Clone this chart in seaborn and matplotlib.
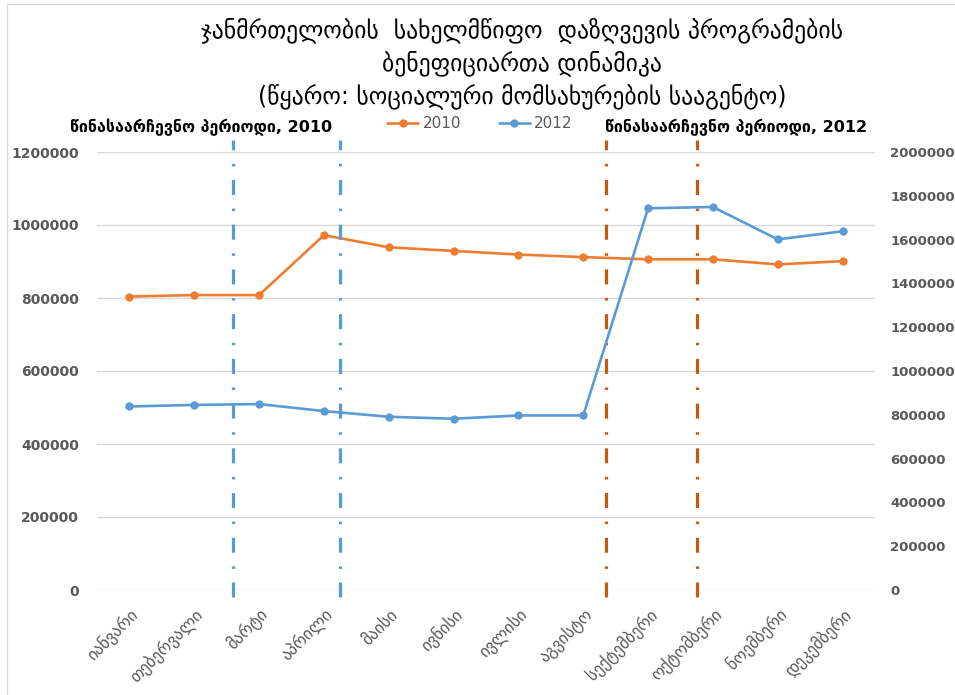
import matplotlib
matplotlib.use("Agg")
import matplotlib.pyplot as plt
from matplotlib.lines import Line2D
from matplotlib.patches import Rectangle
import seaborn as sns
import pandas as pd
import numpy as np

# data
months = ["იანვარი", "თებერვალი", "მარტი", "აპრილი", "მაისი", "ივნისი",
          "ივლისი", "აგვისტო", "სექტემბერი", "ოქტომბერი", "ნოემბერი", "დეკემბერი"]
values_2010 = [804000, 808000, 808000, 972000, 939000, 929000,
               919000, 912000, 906000, 906000, 892000, 901000]
values_2012 = [838000, 845000, 849000, 817000, 791000, 782000,
               797000, 797000, 1743000, 1749000, 1601000, 1638000]
left_ticks = [0, 200000, 400000, 600000, 800000, 1000000, 1200000]
right_ticks = [0, 200000, 400000, 600000, 800000, 1000000, 1200000,
               1400000, 1600000, 1800000, 2000000]
# pre-election period markers (in month-index units)
period_2010 = [1.6, 3.25]
period_2012 = [7.35, 8.75]

title = ("ჯანმრთელობის  სახელმწიფო  დაზღვევის პროგრამების\n"
         "ბენეფიციართა დინამიკა\n"
         "(წყარო: სოციალური მომსახურების სააგენტო)")
note_2010 = "წინასაარჩევნო პერიოდი, 2010"
note_2012 = "წინასაარჩევნო პერიოდი, 2012"

ORANGE = "#ED7D31"
BLUE = "#5B9BD5"
DARK_ORANGE = "#C55A11"
GREY = "#595959"

sns.set_style("white")
plt.rcParams["font.family"] = ["DejaVu Sans"]
plt.rcParams["lines.scale_dashes"] = False

df = pd.DataFrame({"x": np.arange(len(months)), "y2010": values_2010, "y2012": values_2012})

fig = plt.figure(figsize=(9.55, 6.95), dpi=100)
ax = fig.add_axes([97 / 955, 1 - 590 / 695, (875 - 97) / 955, (590 - 152) / 695])
ax2 = ax.twinx()

sns.lineplot(data=df, x="x", y="y2010", ax=ax, color=ORANGE, marker="o",
             markersize=6, markeredgewidth=0, linewidth=1.9, zorder=5)
sns.lineplot(data=df, x="x", y="y2012", ax=ax2, color=BLUE, marker="o",
             markersize=6, markeredgewidth=0, linewidth=1.9, zorder=5)

ax.set_xlim(-0.5, 11.5)
ax.set_ylim(0, 1200000)
ax2.set_ylim(0, 2000000)
ax.set_yticks(left_ticks)
ax2.set_yticks(right_ticks)
ax.set_yticklabels([str(v) for v in left_ticks], fontsize=10, fontweight="bold", color=GREY)
ax2.set_yticklabels([str(v) for v in right_ticks], fontsize=9.5, fontweight="bold", color=GREY)
ax.set_xticks(range(len(months)))
ax.set_xticklabels(months, rotation=45, ha="right", rotation_mode="anchor",
                   fontsize=12, color=GREY)
ax.tick_params(axis="x", length=0, pad=11)
ax.tick_params(axis="y", length=0, pad=13)
ax2.tick_params(axis="y", length=0, pad=11)
ax.set_xlabel("")
ax.set_ylabel("")
ax2.set_ylabel("")

ax.grid(axis="y", color="#D9D9D9", linewidth=1)
ax.set_axisbelow(True)
for a in (ax, ax2):
    for s in a.spines.values():
        s.set_visible(False)

dash = (0, (10.8, 9.8, 1.8, 9.8))
for xv in period_2010:
    ax2.axvline(xv, ymin=-0.017, ymax=1.027, color=BLUE, linewidth=2.3,
                linestyle=dash, clip_on=False, zorder=3)
for xv in period_2012:
    ax2.axvline(xv, ymin=-0.017, ymax=1.027, color=DARK_ORANGE, linewidth=2.3,
                linestyle=dash, clip_on=False, zorder=3)

fig.text(522 / 955, 1 - 63 / 695, title, ha="center", va="center",
         fontsize=17, linespacing=1.38, color="black")
fig.text(70 / 955, 1 - 127 / 695, note_2010, ha="left", va="center",
         fontsize=11.5, fontweight="bold", color="black")
fig.text(605 / 955, 1 - 127 / 695, note_2012, ha="left", va="center",
         fontsize=11.5, fontweight="bold", color="black")

handles = [Line2D([], [], color=ORANGE, marker="o", markersize=5, linewidth=1.9),
           Line2D([], [], color=BLUE, marker="o", markersize=5, linewidth=1.9)]
fig.legend(handles, ["2010", "2012"], loc="center", ncol=2,
           bbox_to_anchor=(480 / 955, 1 - 124 / 695), frameon=False,
           fontsize=11, labelcolor=GREY, handlelength=2.0, handletextpad=0.3,
           columnspacing=2.5)

fig.patches.append(Rectangle((7 / 955, -0.1), 1.2, 1.1 - 4 / 695,
                             transform=fig.transFigure, fill=False,
                             edgecolor="#D9D9D9", linewidth=1))

fig.savefig("out.png", dpi=100)
